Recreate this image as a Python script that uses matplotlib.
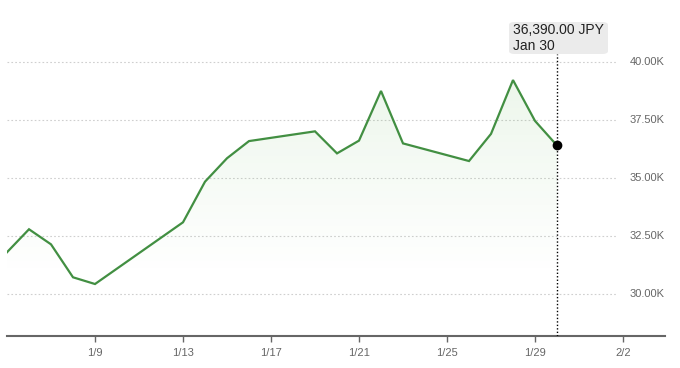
import numpy as np
import matplotlib
matplotlib.use("Agg")
from matplotlib import pyplot as plt
from matplotlib.patches import FancyBboxPatch
import matplotlib.dates as mdates

plt.rcParams["font.family"] = ["Liberation Sans", "DejaVu Sans"]

# closing prices, JPY
dates = np.array([
    "2025-01-05", "2025-01-06", "2025-01-07", "2025-01-08", "2025-01-09",
    "2025-01-13", "2025-01-14", "2025-01-15", "2025-01-16",
    "2025-01-19", "2025-01-20", "2025-01-21", "2025-01-22", "2025-01-23",
    "2025-01-26", "2025-01-27", "2025-01-28", "2025-01-29", "2025-01-30",
], dtype="datetime64[D]")
prices = [
    31790, 32780, 32130, 30710, 30420,
    33080, 34830, 35840, 36580,
    37000, 36050, 36600, 38740, 36480,
    35720, 36890, 39210, 37450, 36390,
]
y_ticks = [30000, 32500, 35000, 37500, 40000]
y_labels = ["30.00K", "32.50K", "35.00K", "37.50K", "40.00K"]
x_ticks = np.array(["2025-01-09", "2025-01-13", "2025-01-17", "2025-01-21",
                    "2025-01-25", "2025-01-29", "2025-02-02"], dtype="datetime64[D]")
x_labels = ["1/9", "1/13", "1/17", "1/21", "1/25", "1/29", "2/2"]
tip_value = "36,390.00 JPY"
tip_date = "Jan 30"

green = "#428f42"
grey = "#666666"

W, H = 680, 368
fig = plt.figure(figsize=(W / 100, H / 100), dpi=100)
ax = fig.add_axes([7 / W, (H - 336) / H, 658 / W, 336 / H])

x = mdates.date2num(dates)
x0 = x[0]
ax.set_xlim(x0, x0 + 658 / 22.0)
ymin, ymax = 28180, 42660
ax.set_ylim(ymin, ymax)

# gradient fill under the line
grad = np.zeros((256, 1, 4))
grad[:, 0, 0] = 0.35
grad[:, 0, 1] = 0.70
grad[:, 0, 2] = 0.30
grad[:, 0, 3] = np.linspace(0.11, 0.0, 256)
top = max(prices)
bottom = 30800
im = ax.imshow(grad, aspect="auto", extent=[x[0], x[-1], bottom, top],
               origin="upper", zorder=1, interpolation="bilinear")
poly = ax.fill_between(x, prices, bottom, color="none", lw=0)
clip = poly.get_paths()[0]
im.set_clip_path(clip, transform=ax.transData)

ax.plot(x, prices, color=green, lw=1.6, zorder=3, solid_joinstyle="miter")

# grid lines stop before the value labels
for yt, lab in zip(y_ticks, y_labels):
    ax.axhline(yt, xmin=0, xmax=(617 - 7) / 658, color="#cfcfcf", lw=0.8,
               ls=(0, (1.5, 2)), zorder=0)
    ax.text(1.0, yt, lab, transform=ax.get_yaxis_transform(), ha="right",
            va="center", fontsize=8, color=grey)

ax.set_yticks([])
ax.set_xticks(mdates.date2num(x_ticks))
ax.set_xticklabels(x_labels, fontsize=8, color=grey)
ax.tick_params(axis="x", length=4, width=1, color=grey, pad=5)

for s in ["top", "left", "right"]:
    ax.spines[s].set_visible(False)
ax.spines["bottom"].set_color(grey)
ax.spines["bottom"].set_linewidth(1.5)

# crosshair at last point
ax.axvline(x[-1], ymin=0, ymax=(336 - 54) / 336, color="black", lw=1,
           ls=(0, (1, 1.5)), zorder=4)
ax.plot(x[-1], prices[-1], "o", color="black", ms=6, zorder=5)

# tooltip
box = FancyBboxPatch((509 / W, 1 - 54 / H), 99 / W, 32 / H,
                     boxstyle="round,pad=0,rounding_size=0.008",
                     transform=fig.transFigure, facecolor="#ebebeb",
                     edgecolor="none")
fig.patches.append(box)
fig.text(513 / W, 1 - 30.5 / H, tip_value, fontsize=10, color="#222222",
         va="center", ha="left")
fig.text(513 / W, 1 - 46.5 / H, tip_date, fontsize=10, color="#222222",
         va="center", ha="left")

fig.savefig("out.png", dpi=100)
